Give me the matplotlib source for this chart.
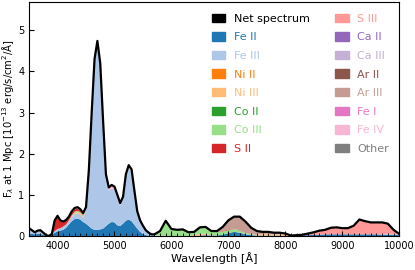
import numpy as np
import matplotlib
matplotlib.use('Agg')
import matplotlib.pyplot as plt
import matplotlib.patches as mpat
from matplotlib.ticker import MultipleLocator

################################################################################
# Data (flux in 1e-13 erg/s/cm^2/A at 1 Mpc)
################################################################################
#50 A steps over the Fe peak, 100 A steps in the red part
wavelength = np.concatenate([np.arange(3500, 5700, 50),
                             np.arange(5700, 10100, 100)])

net_spectrum = [
    0.19, 0.14, 0.09, 0.13, 0.14, 0.08, 0.02, 0.00, 0.05, 0.38, 0.49,
    0.38, 0.35, 0.39, 0.47, 0.60, 0.68, 0.70, 0.65, 0.56, 0.70, 1.60,
    3.00, 4.30, 4.74, 4.20, 2.80, 1.50, 1.18, 1.24, 1.20, 1.00, 0.80,
    0.95, 1.50, 1.72, 1.62, 1.10, 0.60, 0.38, 0.25, 0.14, 0.08, 0.04,
    0.04, 0.12, 0.37, 0.17, 0.15, 0.16, 0.09, 0.10, 0.21, 0.22, 0.12,
    0.12, 0.22, 0.38, 0.47, 0.47, 0.35, 0.20, 0.12, 0.10, 0.10, 0.08,
    0.08, 0.06, 0.01, 0.02, 0.03, 0.06, 0.09, 0.13, 0.15, 0.20, 0.21,
    0.19, 0.19, 0.25, 0.40, 0.36, 0.33, 0.33, 0.33, 0.30, 0.15, 0.05]

fe_ii = [
    0.06, 0.05, 0.04, 0.05, 0.05, 0.03, 0.01, 0.00, 0.03, 0.08, 0.11,
    0.13, 0.15, 0.20, 0.28, 0.36, 0.41, 0.42, 0.40, 0.34, 0.30, 0.24,
    0.18, 0.15, 0.15, 0.16, 0.18, 0.24, 0.30, 0.34, 0.33, 0.26, 0.24,
    0.30, 0.37, 0.40, 0.36, 0.27, 0.18, 0.10, 0.05, 0.02, 0.01, 0.00,
    0.00, 0.00, 0.00, 0.00, 0.00, 0.00, 0.00, 0.00, 0.01, 0.02, 0.01,
    0.01, 0.03, 0.07, 0.10, 0.08, 0.04, 0.02, 0.01, 0.01, 0.01, 0.01,
    0.01, 0.00, 0.00, 0.01, 0.02, 0.02, 0.03, 0.03, 0.04, 0.04, 0.04,
    0.04, 0.04, 0.04, 0.04, 0.04, 0.04, 0.04, 0.03, 0.03, 0.03, 0.02]

fe_iii = [
    0.10, 0.07, 0.04, 0.07, 0.08, 0.04, 0.01, 0.00, 0.01, 0.04, 0.06,
    0.06, 0.08, 0.08, 0.08, 0.10, 0.12, 0.13, 0.12, 0.10, 0.32, 1.30,
    2.78, 4.10, 4.55, 4.00, 2.58, 1.20, 0.80, 0.82, 0.78, 0.66, 0.50,
    0.59, 1.05, 1.25, 1.19, 0.78, 0.38, 0.26, 0.19, 0.11, 0.07, 0.04,
    0.02, 0.01, 0.00, 0.00, 0.00, 0.00, 0.00, 0.00, 0.00, 0.00, 0.00,
    0.00, 0.00, 0.00, 0.00, 0.00, 0.00, 0.00, 0.00, 0.00, 0.00, 0.00,
    0.00, 0.00, 0.00, 0.00, 0.00, 0.00, 0.00, 0.00, 0.00, 0.00, 0.00,
    0.00, 0.00, 0.00, 0.00, 0.00, 0.00, 0.00, 0.01, 0.02, 0.02, 0.01]

ni_iii = [
    0.00, 0.00, 0.00, 0.00, 0.00, 0.00, 0.00, 0.00, 0.00, 0.00, 0.00,
    0.00, 0.00, 0.00, 0.01, 0.02, 0.03, 0.03, 0.03, 0.03, 0.02, 0.01,
    0.00, 0.00, 0.00, 0.00, 0.00, 0.00, 0.00, 0.00, 0.00, 0.00, 0.00,
    0.00, 0.00, 0.00, 0.00, 0.00, 0.00, 0.00, 0.00, 0.00, 0.00, 0.00,
    0.00, 0.00, 0.00, 0.00, 0.00, 0.00, 0.00, 0.03, 0.04, 0.03, 0.01,
    0.00, 0.00, 0.00, 0.00, 0.00, 0.00, 0.00, 0.01, 0.04, 0.04, 0.03,
    0.03, 0.03, 0.00, 0.00, 0.00, 0.00, 0.00, 0.00, 0.00, 0.00, 0.00,
    0.00, 0.00, 0.00, 0.00, 0.00, 0.00, 0.00, 0.00, 0.00, 0.00, 0.00]

co_iii = [
    0.00, 0.00, 0.00, 0.00, 0.00, 0.00, 0.00, 0.00, 0.00, 0.00, 0.00,
    0.00, 0.00, 0.00, 0.01, 0.02, 0.03, 0.03, 0.03, 0.03, 0.02, 0.01,
    0.00, 0.00, 0.00, 0.00, 0.00, 0.00, 0.00, 0.00, 0.00, 0.00, 0.00,
    0.00, 0.01, 0.01, 0.01, 0.00, 0.00, 0.00, 0.00, 0.00, 0.00, 0.00,
    0.02, 0.11, 0.37, 0.17, 0.15, 0.16, 0.09, 0.07, 0.16, 0.17, 0.10,
    0.08, 0.08, 0.07, 0.07, 0.05, 0.03, 0.02, 0.01, 0.00, 0.00, 0.00,
    0.00, 0.00, 0.00, 0.00, 0.00, 0.00, 0.00, 0.00, 0.00, 0.00, 0.00,
    0.00, 0.00, 0.00, 0.00, 0.00, 0.00, 0.00, 0.00, 0.00, 0.00, 0.00]

s_ii = [
    0.00, 0.00, 0.00, 0.00, 0.00, 0.00, 0.00, 0.00, 0.01, 0.24, 0.30,
    0.17, 0.10, 0.09, 0.08, 0.07, 0.06, 0.05, 0.04, 0.03, 0.02, 0.01,
    0.00, 0.00, 0.00, 0.00, 0.00, 0.00, 0.00, 0.00, 0.00, 0.00, 0.00,
    0.00, 0.00, 0.00, 0.00, 0.00, 0.00, 0.00, 0.00, 0.00, 0.00, 0.00,
    0.00, 0.00, 0.00, 0.00, 0.00, 0.00, 0.00, 0.00, 0.00, 0.00, 0.00,
    0.01, 0.01, 0.02, 0.00, 0.01, 0.00, 0.00, 0.00, 0.00, 0.00, 0.00,
    0.00, 0.00, 0.00, 0.00, 0.00, 0.00, 0.00, 0.00, 0.00, 0.00, 0.00,
    0.00, 0.00, 0.00, 0.00, 0.00, 0.00, 0.00, 0.00, 0.00, 0.00, 0.00]

s_iii = [
    0.00, 0.00, 0.00, 0.00, 0.00, 0.00, 0.00, 0.00, 0.00, 0.00, 0.00,
    0.00, 0.00, 0.00, 0.00, 0.00, 0.00, 0.00, 0.00, 0.00, 0.00, 0.00,
    0.00, 0.00, 0.00, 0.00, 0.00, 0.00, 0.00, 0.00, 0.00, 0.00, 0.00,
    0.00, 0.00, 0.00, 0.00, 0.00, 0.00, 0.00, 0.00, 0.00, 0.00, 0.00,
    0.00, 0.00, 0.00, 0.00, 0.00, 0.00, 0.00, 0.00, 0.00, 0.00, 0.00,
    0.00, 0.00, 0.00, 0.00, 0.00, 0.00, 0.00, 0.00, 0.00, 0.00, 0.00,
    0.00, 0.00, 0.00, 0.00, 0.01, 0.04, 0.06, 0.10, 0.11, 0.16, 0.17,
    0.15, 0.15, 0.21, 0.36, 0.32, 0.29, 0.29, 0.29, 0.25, 0.10, 0.02]

ar_iii = [
    0.00, 0.00, 0.00, 0.00, 0.00, 0.00, 0.00, 0.00, 0.00, 0.00, 0.00,
    0.00, 0.00, 0.00, 0.00, 0.00, 0.00, 0.00, 0.00, 0.00, 0.00, 0.00,
    0.00, 0.00, 0.00, 0.00, 0.00, 0.00, 0.00, 0.00, 0.00, 0.00, 0.00,
    0.00, 0.00, 0.00, 0.00, 0.00, 0.00, 0.00, 0.00, 0.00, 0.00, 0.00,
    0.00, 0.00, 0.00, 0.00, 0.00, 0.00, 0.00, 0.00, 0.00, 0.00, 0.00,
    0.02, 0.10, 0.22, 0.30, 0.33, 0.27, 0.16, 0.09, 0.05, 0.05, 0.04,
    0.04, 0.03, 0.01, 0.00, 0.00, 0.00, 0.00, 0.00, 0.00, 0.00, 0.00,
    0.00, 0.00, 0.00, 0.00, 0.00, 0.00, 0.00, 0.00, 0.00, 0.00, 0.00]

fe_iv = [
    0.03, 0.02, 0.01, 0.01, 0.01, 0.01, 0.00, 0.00, 0.00, 0.02, 0.02,
    0.02, 0.02, 0.02, 0.01, 0.03, 0.03, 0.04, 0.03, 0.03, 0.02, 0.03,
    0.04, 0.05, 0.04, 0.04, 0.04, 0.06, 0.08, 0.08, 0.09, 0.08, 0.06,
    0.06, 0.06, 0.06, 0.05, 0.05, 0.04, 0.02, 0.01, 0.01, 0.00, 0.00,
    0.00, 0.00, 0.00, 0.00, 0.00, 0.00, 0.00, 0.00, 0.00, 0.00, 0.00,
    0.00, 0.00, 0.00, 0.00, 0.00, 0.00, 0.00, 0.00, 0.00, 0.00, 0.00,
    0.00, 0.00, 0.00, 0.00, 0.00, 0.00, 0.00, 0.00, 0.00, 0.00, 0.00,
    0.00, 0.00, 0.00, 0.00, 0.00, 0.00, 0.00, 0.00, 0.00, 0.00, 0.00]

other = [
    0.00, 0.00, 0.00, 0.00, 0.00, 0.00, 0.00, 0.00, 0.00, 0.00, 0.00,
    0.00, 0.00, 0.00, 0.00, 0.00, 0.00, 0.00, 0.00, 0.00, 0.00, 0.00,
    0.00, 0.00, 0.00, 0.00, 0.00, 0.00, 0.00, 0.00, 0.00, 0.00, 0.00,
    0.00, 0.00, 0.00, 0.00, 0.00, 0.00, 0.00, 0.00, 0.00, 0.00, 0.00,
    0.00, 0.00, 0.00, 0.00, 0.00, 0.00, 0.00, 0.00, 0.00, 0.00, 0.00,
    0.00, 0.00, 0.00, 0.00, 0.00, 0.00, 0.00, 0.00, 0.00, 0.00, 0.00,
    0.00, 0.00, 0.00, 0.01, 0.00, 0.00, 0.00, 0.00, 0.00, 0.00, 0.00,
    0.00, 0.00, 0.00, 0.00, 0.00, 0.00, 0.00, 0.00, 0.00, 0.00, 0.00]

#These ions are in the legend but contribute nothing visible
no_flux = np.zeros(len(wavelength))
ni_ii = no_flux
co_ii = no_flux
ca_ii = no_flux
ca_iii = no_flux
ar_ii = no_flux
fe_i = no_flux

ION_NAMES = ['Fe II', 'Fe III', 'Ni II', 'Ni III', 'Co II', 'Co III', 'S II',
             'S III', 'Ca II', 'Ca III', 'Ar II', 'Ar III', 'Fe I', 'Fe IV',
             'Other']
ion_flux = [fe_ii, fe_iii, ni_ii, ni_iii, co_ii, co_iii, s_ii,
            s_iii, ca_ii, ca_iii, ar_ii, ar_iii, fe_i, fe_iv, other]

#tab20-ish colours, grey for the rest
cmap = plt.get_cmap('tab20')
ion_cols = [cmap(i) for i in range(14)] + ['#7f7f7f']


################################################################################
# Plot
################################################################################
fig = plt.figure(figsize=(4.15, 2.7), dpi=100)
ax = fig.add_axes([0.070, 0.126, 0.892, 0.867])

ax.stackplot(wavelength, *ion_flux, colors=ion_cols, linewidth=0)
ax.plot(wavelength, net_spectrum, color='black', linewidth=1.6)

ax.set_xlim(3500, 10000)
ax.set_ylim(0, 1.2 * max(net_spectrum))
ax.xaxis.set_minor_locator(MultipleLocator(100))
ax.tick_params(which='both', direction='in', labelsize=7)
ax.tick_params(which='minor', length=2)

ax.set_xlabel('Wavelength [Å]', fontsize=8, labelpad=1)
ax.set_ylabel(r'F$_\lambda$ at 1 Mpc [10$^{-13}$ erg/s/cm$^2$/Å]',
              fontsize=7.2, labelpad=1.5)

#Legend: black square for the net spectrum, coloured text for each ion
handles = [mpat.Patch(color='black')]
handles += [mpat.Patch(color=c) for c in ion_cols]
labels = ['Net spectrum'] + ION_NAMES
leg = ax.legend(handles, labels, ncol=2, loc='upper right', frameon=False,
                bbox_to_anchor=(1.0, 0.992),
                fontsize=8, handlelength=1.2, handleheight=0.8,
                columnspacing=2.3, labelspacing=0.76)
for txt, col in zip(leg.get_texts(), ['black'] + ion_cols):
    txt.set_color(col)

plt.savefig('out.png', dpi=100)
plt.close()
